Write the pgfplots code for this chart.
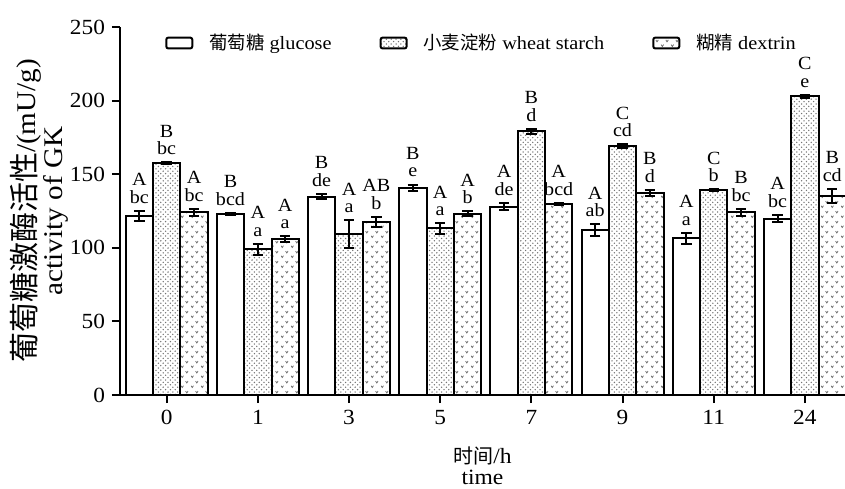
\documentclass[border=0pt]{standalone}
\usepackage{pgfplots}
\pgfplotsset{compat=1.18}
\usepackage{fontspec}
\setmainfont{Liberation Serif}[FakeStretch=1.08]
\newfontfamily\cjk{Noto Sans CJK SC}
\usetikzlibrary{patterns}
\pgfdeclarepatternformonly{sdots}{\pgfqpoint{-0.5pt}{-0.5pt}}{\pgfqpoint{2.9pt}{2.9pt}}{\pgfqpoint{2.4pt}{2.4pt}}{%
  \pgfpathcircle{\pgfqpoint{0pt}{0pt}}{0.38pt}%
  \pgfpathcircle{\pgfqpoint{1.2pt}{1.2pt}}{0.38pt}%
  \pgfusepath{fill}}
\pgfdeclarepatternformonly{vees}{\pgfqpoint{0pt}{0pt}}{\pgfqpoint{5pt}{5pt}}{\pgfqpoint{5pt}{5pt}}{%
  \pgfsetlinewidth{0.4pt}%
  \pgfpathmoveto{\pgfqpoint{0.6pt}{1.8pt}}\pgfpathlineto{\pgfqpoint{1.25pt}{0.8pt}}\pgfpathlineto{\pgfqpoint{1.9pt}{1.8pt}}%
  \pgfpathmoveto{\pgfqpoint{3.1pt}{4.3pt}}\pgfpathlineto{\pgfqpoint{3.75pt}{3.3pt}}\pgfpathlineto{\pgfqpoint{4.4pt}{4.3pt}}%
  \pgfusepath{stroke}}

\pgfplotstableread{
x y e
0 121.8 3.4
1 123.2 0.6
2 134.7 1.8
3 140.8 2.2
4 127.9 2.5
5 112.1 3.9
6 106.5 3.6
7 119.8 2.4
}\glu
\pgfplotstableread{
x y e
0 157.4 0.6
1 99.0 3.8
2 109.2 9.4
3 113.2 3.5
4 179.1 1.7
5 169.0 1.3
6 139.3 0.5
7 202.9 1.0
}\sta
\pgfplotstableread{
x y e
0 124.1 2.5
1 106.0 1.8
2 117.5 3.4
3 123.2 1.5
4 129.6 0.8
5 137.4 2.0
6 124.1 2.3
7 135.2 4.8
}\dex

\begin{document}
\begin{tikzpicture}
\begin{axis}[
  scale only axis, width=362.5pt, height=184pt,
  xmin=-0.512, xmax=7.44, ymin=0, ymax=250,
  axis lines*=left,
  axis line style={line width=1pt},
  xtick={0,...,7}, xticklabels={0,1,3,5,7,9,11,24},
  ytick={0,50,...,250},
  tick align=outside, major tick length=4pt,
  tick style={line width=1pt, black},
  /pgf/number format/assume math mode=true,
  tick label style={font=\fontsize{10.8}{12}\selectfont},
  ylabel={{\fontsize{15}{15}\cjk 葡萄糖激酶活性}/(mU/g)\\activity of GK},
  ylabel style={align=center, font=\fontsize{13.5}{11}\selectfont, yshift=-6pt},
  xlabel={{\fontsize{10}{10}\cjk 时间}/h\\time},
  xlabel style={align=center, font=\fontsize{10.9}{10.5}\selectfont, yshift=-4pt},
  ybar, bar width=0.3,
  legend columns=3,
  legend style={draw=none, fill=none, at={(0.5,0.9565)}, anchor=center,
    font=\fontsize{9.4}{11}\selectfont,
    /tikz/every even column/.append style={column sep=22pt}},
  legend image code/.code={\draw[#1, rounded corners=1pt, line width=1pt] (0pt,-2.7pt) rectangle (13pt,2.7pt);\path (19pt,0pt);},
  error bars/y dir=both, error bars/y explicit,
  error bars/error bar style={line width=1pt},
  error bars/error mark options={rotate=90, mark size=2.6pt, line width=1pt},
]
\addplot[bar shift=-0.3, draw=black, line width=1pt, fill=white]
  table[x=x, y=y, y error=e] {\glu};
\addlegendentry{{\fontsize{9.2}{9}\cjk 葡萄糖} glucose\hspace{5pt}}
\addplot[bar shift=0, draw=black, line width=1pt, pattern=sdots, pattern color=black!55]
  table[x=x, y=y, y error=e] {\sta};
\addlegendentry{{\fontsize{9.2}{9}\cjk 小麦淀粉} wheat starch}
\addplot[bar shift=0.3, draw=black, line width=1pt, pattern=vees, pattern color=black!60]
  table[x=x, y=y, y error=e] {\dex};
\addlegendentry{{\fontsize{9.2}{9}\cjk 糊精} dextrin}

\tikzset{lab/.style={anchor=south, align=center, inner sep=0pt, yshift=3.5pt, font=\fontsize{9.3}{8.8}\selectfont}}
\node[lab] at (axis cs:-0.3,125.2) {A\\bc};
\node[lab] at (axis cs:0.7,123.8) {B\\bcd};
\node[lab] at (axis cs:1.7,136.5) {B\\de};
\node[lab] at (axis cs:2.7,143.0) {B\\e};
\node[lab] at (axis cs:3.7,130.4) {A\\de};
\node[lab] at (axis cs:4.7,116.0) {A\\ab};
\node[lab] at (axis cs:5.7,110.1) {A\\a};
\node[lab] at (axis cs:6.7,122.2) {A\\bc};
\node[lab] at (axis cs:0,158.0) {B\\bc};
\node[lab] at (axis cs:1,102.8) {A\\a};
\node[lab] at (axis cs:2,118.6) {A\\a};
\node[lab] at (axis cs:3,116.7) {A\\a};
\node[lab] at (axis cs:4,180.8) {B\\d};
\node[lab] at (axis cs:5,170.3) {C\\cd};
\node[lab] at (axis cs:6,139.8) {C\\b};
\node[lab] at (axis cs:7,203.9) {C\\e};
\node[lab] at (axis cs:0.3,126.6) {A\\bc};
\node[lab] at (axis cs:1.3,107.8) {A\\a};
\node[lab] at (axis cs:2.3,120.9) {AB\\b};
\node[lab] at (axis cs:3.3,124.7) {A\\b};
\node[lab] at (axis cs:4.3,130.4) {A\\bcd};
\node[lab] at (axis cs:5.3,139.4) {B\\d};
\node[lab] at (axis cs:6.3,126.4) {B\\bc};
\node[lab] at (axis cs:7.3,140.0) {B\\cd};

\coordinate (bl) at (axis description cs:-0.1655,-0.2527);
\coordinate (tr) at (axis description cs:1.0,1.0734);
\end{axis}
\pgfresetboundingbox
\path (bl) rectangle (tr);
\end{tikzpicture}
\end{document}
